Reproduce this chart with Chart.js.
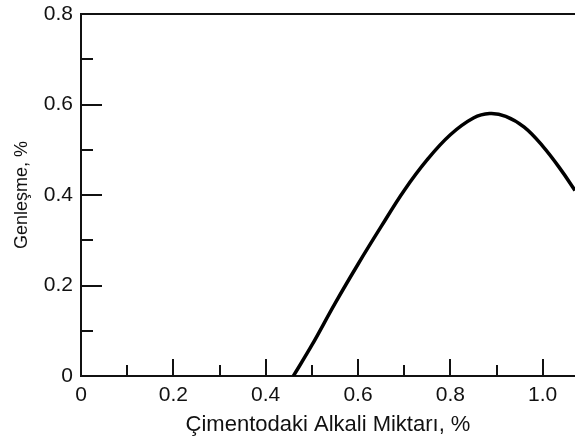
<!DOCTYPE html>
<html>
<head>
<meta charset="utf-8">
<title>Genleşme - Alkali Miktarı</title>
<script src="https://cdn.jsdelivr.net/npm/chart.js@4/dist/chart.umd.min.js"></script>
<style>
  html, body { margin: 0; padding: 0; background: #fff; }
  #wrap { width: 575px; height: 440px; }
</style>
</head>
<body>
<div id="wrap"><canvas id="expansionChart" width="575" height="440"></canvas></div>
<script>
// çimentodaki alkali miktarı (%) ve genleşme (%)
const alkaliValues = [0.46, 0.50, 0.55, 0.60, 0.65, 0.70, 0.75, 0.80, 0.85, 0.885, 0.92, 0.96, 1.00, 1.04, 1.07];
const expansionValues = [0, 0.068, 0.16, 0.247, 0.33, 0.41, 0.478, 0.533, 0.570, 0.580, 0.574, 0.55, 0.508, 0.455, 0.41];

// eksen etiketleri
const xTickValues = [0, 0.2, 0.4, 0.6, 0.8, 1.0];
const yTickValues = [0, 0.2, 0.4, 0.6, 0.8];

// içe bakan çentikler
const xMajorMarks = [0.2, 0.4, 0.6, 0.8, 1.0];
const xMinorMarks = [0.1, 0.3, 0.5, 0.7, 0.9];
const yMajorMarks = [0.2, 0.4, 0.6];
const yMinorMarks = [0.1, 0.3, 0.5, 0.7];

const fontFamily = '"Liberation Sans", Arial, Helvetica, sans-serif';
const fmt = v => (v === 0 ? '0' : v.toFixed(1));

// çerçevenin üst çizgisi ve içe doğru çentikler
const innerTicks = {
	id: 'innerTicks',
	afterDraw(chart) {
		const ctx = chart.ctx;
		const area = chart.chartArea;
		const xs = chart.scales.x;
		const ys = chart.scales.y;
		ctx.save();
		ctx.strokeStyle = '#111';
		ctx.lineWidth = 2;
		ctx.beginPath();
		ctx.moveTo(area.left, area.top);
		ctx.lineTo(area.right, area.top);
		xMajorMarks.forEach(v => {
			const px = Math.round(xs.getPixelForValue(v));
			ctx.moveTo(px, area.bottom); ctx.lineTo(px, area.bottom - 17);
		});
		xMinorMarks.forEach(v => {
			const px = Math.round(xs.getPixelForValue(v));
			ctx.moveTo(px, area.bottom); ctx.lineTo(px, area.bottom - 11);
		});
		yMajorMarks.forEach(v => {
			const py = Math.round(ys.getPixelForValue(v));
			ctx.moveTo(area.left, py); ctx.lineTo(area.left + 21, py);
		});
		yMinorMarks.forEach(v => {
			const py = Math.round(ys.getPixelForValue(v));
			ctx.moveTo(area.left, py); ctx.lineTo(area.left + 12, py);
		});
		ctx.stroke();
		ctx.restore();
	}
};

const ctx = document.getElementById('expansionChart').getContext('2d');
new Chart(ctx, {
	type: 'line',
	data: {
		datasets: [{
			data: alkaliValues.map((x, i) => ({ x: x, y: expansionValues[i] })),
			borderColor: '#000',
			borderWidth: 3.5,
			pointRadius: 0,
			fill: false,
			tension: 0.4
		}]
	},
	options: {
		responsive: false,
		animation: false,
		layout: { padding: { top: 14, right: 0, left: 0, bottom: 0 } },
		plugins: { legend: { display: false }, tooltip: { enabled: false } },
		scales: {
			x: {
				type: 'linear',
				min: 0,
				max: 1.07,
				afterBuildTicks: s => { s.ticks = xTickValues.map(v => ({ value: v })); },
				afterFit: s => { s.height = 64; s.paddingLeft = 0; s.paddingRight = 0; },
				grid: { display: false, drawTicks: false },
				border: { display: true, color: '#111', width: 2 },
				ticks: {
					callback: v => fmt(v),
					color: '#111',
					padding: 7,
					maxRotation: 0,
					font: { family: fontFamily, size: 21 }
				},
				title: {
					display: true,
					text: 'Çimentodaki Alkali Miktarı, %',
					color: '#111',
					padding: { top: 0, bottom: 2 },
					font: { family: fontFamily, size: 22 }
				}
			},
			y: {
				type: 'linear',
				min: 0,
				max: 0.8,
				afterBuildTicks: s => { s.ticks = yTickValues.map(v => ({ value: v })); },
				afterFit: s => { s.width = 81; s.paddingTop = 0; s.paddingBottom = 0; },
				grid: { display: false, drawTicks: false },
				border: { display: true, color: '#111', width: 2 },
				ticks: {
					callback: v => fmt(v),
					color: '#111',
					padding: 8,
					font: { family: fontFamily, size: 21 }
				},
				title: {
					display: true,
					text: 'Genleşme, %',
					color: '#111',
					padding: { top: 11, bottom: 0 },
					font: { family: fontFamily, size: 18 }
				}
			}
		}
	},
	plugins: [innerTicks]
});
</script>
</body>
</html>
